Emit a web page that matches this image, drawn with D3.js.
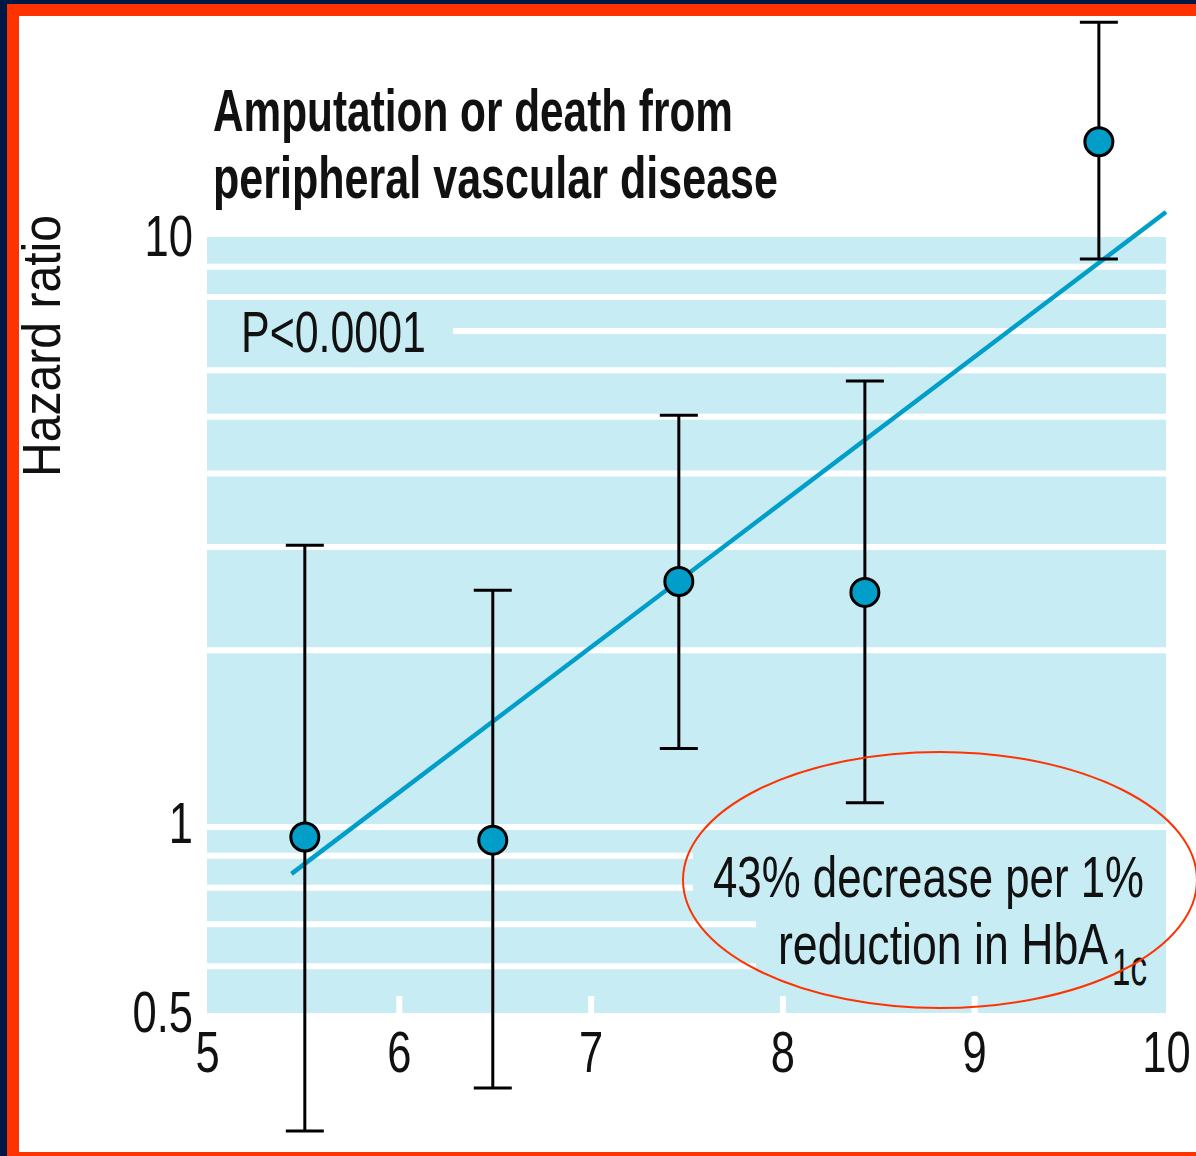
<!DOCTYPE html>
<html>
<head>
<meta charset="utf-8">
<script src="https://cdn.jsdelivr.net/npm/d3@7"></script>
<style>
  html, body { margin: 0; padding: 0; background: #001845; }
  svg { display: block; }
  text { font-family: "Liberation Sans", Arial, Helvetica, sans-serif; fill: #111; }
</style>
</head>
<body>
<svg id="chart" width="1196" height="1156"></svg>
<script>
// ---- data ----
const hba1c   = [5.51, 6.49, 7.46, 8.43, 9.65];     // updated mean HbA1c category (%)
const hazard  = [0.964, 0.953, 2.62, 2.51, 14.7];   // hazard ratio
const ciLow   = [0.328, 0.384, 1.36, 1.10, 9.28];
const ciHigh  = [3.02, 2.53, 5.03, 5.75, 23.5];
const fitX    = [5.44, 10];                          // regression line ends (HbA1c)
const fitY    = [0.842, 11.16];                      // regression line ends (hazard ratio)
const xTicks  = [5, 6, 7, 8, 9, 10];
const xInnerTicks = [6, 7, 8, 9];
const yTicks  = [0.5, 1, 10];
const yGrid   = [9, 8, 7, 6, 5, 4, 3, 2, 1, 0.9, 0.8, 0.7, 0.6];
const titleLines = ["Amputation or death from", "peripheral vascular disease"];
const yTitle  = "Hazard ratio";
const pLabel  = "P<0.0001";
const noteLine1 = "43% decrease per 1%";
const noteLine2 = "reduction in HbA";
const noteSub   = "1c";

// ---- layout ----
const W = 1196, H = 1156;
const svg = d3.select("#chart");

// frame: navy background, orange border, white panel
svg.append("rect").attr("x", 0).attr("y", 0).attr("width", W).attr("height", H).attr("fill", "#001845");
svg.append("rect").attr("x", 7).attr("y", 4).attr("width", W - 7).attr("height", H - 4).attr("fill", "#ff3300");
svg.append("rect").attr("x", 19).attr("y", 16).attr("width", W - 19).attr("height", 1152 - 16).attr("fill", "#ffffff");

const x = d3.scaleLinear().domain([5, 10]).range([207, 1166]);
const y = d3.scaleLog().domain([0.5, 1, 10]).range([1016, 827, 240]);

const plotTop = y(10) - 3, plotBottom = y(0.5) - 3;

// blue plot panel
svg.append("rect")
  .attr("x", x(5)).attr("y", plotTop)
  .attr("width", x(10) - x(5)).attr("height", plotBottom - plotTop)
  .attr("fill", "#c8ecf4");

// white horizontal gridlines (some are interrupted by labels)
function gridFrom(v) { return v === 7 ? 453 : x(5); }
function gridTo(v) {
  if (v === 0.9 || v === 0.8) return 693;
  if (v === 0.7 || v === 0.6) return 756;
  return x(10);
}
svg.append("g").selectAll("line").data(yGrid).join("line")
  .attr("x1", d => gridFrom(d)).attr("x2", d => gridTo(d))
  .attr("y1", d => y(d)).attr("y2", d => y(d))
  .attr("stroke", "#ffffff").attr("stroke-width", 6);

// white inner ticks at the bottom of the panel
const innerAxis = svg.append("g")
  .attr("transform", `translate(0,${plotBottom})`)
  .call(d3.axisBottom(x).tickValues(xInnerTicks).tickSizeInner(-17).tickSizeOuter(0).tickFormat(""));
innerAxis.select(".domain").remove();
innerAxis.selectAll(".tick line").attr("stroke", "#ffffff").attr("stroke-width", 6);

function condense(sel, k) {
  sel.each(function () {
    const len = this.getComputedTextLength();
    d3.select(this).attr("textLength", len * k).attr("lengthAdjust", "spacingAndGlyphs");
  });
}

// y axis labels
const yAxisG = svg.append("g")
  .attr("transform", `translate(${x(5)},0)`)
  .call(d3.axisLeft(y).tickValues(yTicks).tickSize(0).tickPadding(14).tickFormat(d => String(d)));
yAxisG.select(".domain").remove();
yAxisG.selectAll("text")
  .attr("y", -3)
  .style("font-size", "58px").style("font-family", "'Liberation Sans', Arial, sans-serif").attr("fill", "#111");
condense(yAxisG.selectAll("text"), 0.75);

// x axis labels
const xAxisG = svg.append("g")
  .attr("transform", `translate(0,${plotBottom})`)
  .call(d3.axisBottom(x).tickValues(xTicks).tickSize(0).tickPadding(18).tickFormat(d3.format("d")));
xAxisG.select(".domain").remove();
xAxisG.selectAll("text")
  .style("font-size", "58px").style("font-family", "'Liberation Sans', Arial, sans-serif").attr("fill", "#111");
condense(xAxisG.selectAll("text"), 0.75);

// y axis title
svg.append("text")
  .attr("transform", "translate(60,346) rotate(-90)")
  .attr("text-anchor", "middle")
  .style("font-size", "54px")
  .attr("textLength", 262).attr("lengthAdjust", "spacingAndGlyphs")
  .text(yTitle);

// title
const titleG = svg.append("g");
titleG.selectAll("text").data(titleLines).join("text")
  .attr("x", 213).attr("y", (d, i) => i === 0 ? 131 : 198)
  .style("font-size", "59px").style("font-weight", "bold")
  .attr("textLength", (d, i) => i === 0 ? 520 : 565).attr("lengthAdjust", "spacingAndGlyphs")
  .text(d => d);

// P value
svg.append("text")
  .attr("x", 241).attr("y", 352)
  .style("font-size", "58px")
  .attr("textLength", 185).attr("lengthAdjust", "spacingAndGlyphs")
  .text(pLabel);

// regression line
svg.append("path")
  .datum(fitX.map((v, i) => [v, fitY[i]]))
  .attr("d", d3.line().x(d => x(d[0])).y(d => y(d[1])))
  .attr("fill", "none").attr("stroke", "#009ec9").attr("stroke-width", 4.5);

// error bars
const eb = svg.append("g").attr("stroke", "#000").attr("stroke-width", 3);
eb.selectAll("line.v").data(hba1c).join("line").attr("class", "v")
  .attr("x1", d => x(d)).attr("x2", d => x(d))
  .attr("y1", (d, i) => y(ciLow[i])).attr("y2", (d, i) => y(ciHigh[i]));
eb.selectAll("line.lo").data(hba1c).join("line").attr("class", "lo")
  .attr("x1", d => x(d) - 19).attr("x2", d => x(d) + 19)
  .attr("y1", (d, i) => y(ciLow[i])).attr("y2", (d, i) => y(ciLow[i]));
eb.selectAll("line.hi").data(hba1c).join("line").attr("class", "hi")
  .attr("x1", d => x(d) - 19).attr("x2", d => x(d) + 19)
  .attr("y1", (d, i) => y(ciHigh[i])).attr("y2", (d, i) => y(ciHigh[i]));

// points
svg.append("g").selectAll("circle").data(hba1c).join("circle")
  .attr("cx", d => x(d)).attr("cy", (d, i) => y(hazard[i]))
  .attr("r", 14)
  .attr("fill", "#009ec9").attr("stroke", "#000").attr("stroke-width", 3);

// annotation
svg.append("text")
  .attr("x", 713).attr("y", 897)
  .style("font-size", "58px")
  .attr("textLength", 431).attr("lengthAdjust", "spacingAndGlyphs")
  .text(noteLine1);
svg.append("text")
  .attr("x", 778).attr("y", 964)
  .style("font-size", "58px")
  .attr("textLength", 330).attr("lengthAdjust", "spacingAndGlyphs")
  .text(noteLine2);
svg.append("text")
  .attr("x", 1112).attr("y", 985)
  .style("font-size", "52px")
  .attr("textLength", 35).attr("lengthAdjust", "spacingAndGlyphs")
  .text(noteSub);

svg.append("ellipse")
  .attr("cx", 940).attr("cy", 880).attr("rx", 257).attr("ry", 128)
  .attr("fill", "none").attr("stroke", "#ff3300").attr("stroke-width", 2);
</script>
</body>
</html>
